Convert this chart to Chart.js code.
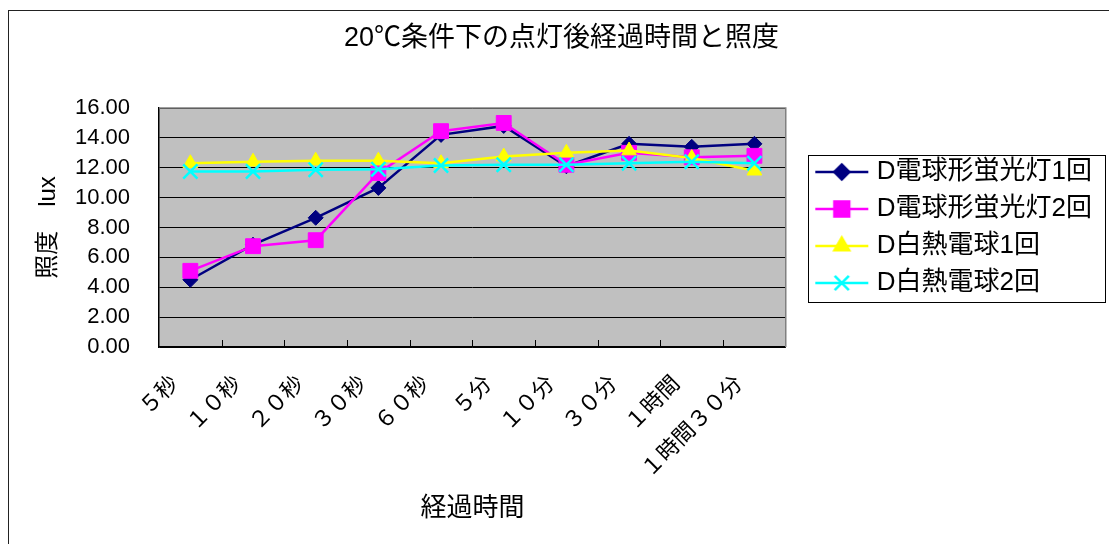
<!DOCTYPE html>
<html>
<head>
<meta charset="utf-8">
<script src="https://cdn.jsdelivr.net/npm/chart.js@4.4.1/dist/chart.umd.min.js"></script>
<style>
    html, body { margin: 0; padding: 0; background: #fff; overflow: hidden; }
    #frame { position: absolute; left: 8px; top: 10px; width: 1200px; height: 600px; border: 1.5px solid #222; }
    #wrap { position: absolute; left: 0; top: 0; width: 1109px; height: 544px; }
</style>
</head>
<body>
<div id="frame"></div>
<div id="wrap"><canvas id="luxChart"></canvas></div>
<script>
var categories = ["５秒", "１０秒", "２０秒", "３０秒", "６０秒", "５分", "１０分", "３０分", "１時間", "１時間３０分"];
var fluor1 = [4.5, 6.85, 8.65, 10.65, 14.2, 14.8, 12.1, 13.6, 13.4, 13.6];
var fluor2 = [5.1, 6.75, 7.15, 11.65, 14.45, 15.0, 12.2, 13.0, 12.7, 12.8];
var incand1 = [12.3, 12.4, 12.47, 12.47, 12.3, 12.75, 13.0, 13.15, 12.65, 11.8];
var incand2 = [11.75, 11.75, 11.87, 11.9, 12.15, 12.2, 12.2, 12.3, 12.4, 12.3];
var seriesNames = ["D電球形蛍光灯1回", "D電球形蛍光灯2回", "D白熱電球1回", "D白熱電球2回"];
var yTicks = [0, 2, 4, 6, 8, 10, 12, 14, 16];

var FONT = "'Liberation Sans', 'Noto Sans CJK JP', sans-serif";
var colors = ["#000080", "#ff00ff", "#ffff00", "#00ffff"];
var styles = ["rectRot", "rect", "triangle", "crossRot"];
var radii = [7.5, 10.5, 8.5, 10];

function legendMarker(i) {
    var c = document.createElement("canvas");
    c.width = 78;
    c.height = 26;
    var ctx = c.getContext("2d");
    ctx.strokeStyle = colors[i];
    ctx.fillStyle = colors[i];
    ctx.lineWidth = 2.5;
    ctx.beginPath();
    ctx.moveTo(24, 13);
    ctx.lineTo(77, 13);
    ctx.stroke();
    Chart.helpers.drawPoint(ctx, {
        pointStyle: styles[i],
        radius: radii[i],
        rotation: 0,
        borderWidth: i === 3 ? 2.5 : 1
    }, 50.5, 13);
    return c;
}

function makeDataset(i, data) {
    return {
        label: seriesNames[i],
        data: data,
        borderColor: colors[i],
        backgroundColor: colors[i],
        borderWidth: 2.5,
        pointStyle: styles[i],
        pointRadius: radii[i],
        pointBorderWidth: i === 3 ? 2.5 : 1,
        pointBorderColor: colors[i],
        pointBackgroundColor: colors[i],
        tension: 0,
        order: 4 - i
    };
}

var plotFrame = {
    id: "plotFrame",
    beforeDraw: function (chart) {
        var a = chart.chartArea;
        var ctx = chart.ctx;
        ctx.save();
        ctx.fillStyle = "#c0c0c0";
        ctx.fillRect(a.left, a.top, a.right - a.left, a.bottom - a.top);
        ctx.restore();
    },
    beforeDatasetsDraw: function (chart) {
        var a = chart.chartArea;
        var ctx = chart.ctx;
        var x = chart.scales.x;
        ctx.save();
        ctx.strokeStyle = "#808080";
        ctx.lineWidth = 1.5;
        ctx.beginPath();
        ctx.moveTo(a.left, a.top);
        ctx.lineTo(a.right, a.top);
        ctx.lineTo(a.right, a.bottom);
        ctx.stroke();
        // inside tick marks between categories
        ctx.strokeStyle = "#000";
        ctx.lineWidth = 1;
        ctx.beginPath();
        for (var i = 1; i < categories.length; i++) {
            var px = Math.round(x.getPixelForValue(i - 0.5)) + 0.5;
            ctx.moveTo(px, a.bottom);
            ctx.lineTo(px, a.bottom - 7);
        }
        ctx.stroke();
        ctx.restore();
    },
    afterDraw: function (chart) {
        var lg = chart.legend;
        if (!lg || !lg.legendHitBoxes.length) return;
        var boxes = lg.legendHitBoxes;
        var first = boxes[0];
        var last = boxes[boxes.length - 1];
        var ctx = chart.ctx;
        ctx.save();
        ctx.strokeStyle = "#000";
        ctx.lineWidth = 1;
        var top = Math.round(first.top - 4) + 0.5;
        var bottom = Math.round(last.top + last.height + 6) + 0.5;
        var left = Math.round(lg.left + 22) + 0.5;
        var right = chart.width - 3.5;
        ctx.strokeRect(left, top, right - left, bottom - top);
        ctx.restore();
    }
};

new Chart(document.getElementById("luxChart"), {
    type: "line",
    data: {
        labels: categories,
        datasets: [
            makeDataset(0, fluor1),
            makeDataset(1, fluor2),
            makeDataset(2, incand1),
            makeDataset(3, incand2)
        ]
    },
    options: {
        responsive: true,
        maintainAspectRatio: false,
        animation: false,
        layout: {
            padding: { left: 21, right: 7, top: 0, bottom: 20 }
        },
        plugins: {
            title: {
                display: true,
                text: "20℃条件下の点灯後経過時間と照度",
                color: "#000",
                font: { family: FONT, size: 27, weight: "normal" },
                padding: { top: 22, bottom: 53.6 }
            },
            legend: {
                position: "right",
                fullSize: false,
                maxWidth: 330,
                labels: {
                    usePointStyle: true,
                    pointStyleWidth: 67,
                    padding: 11,
                    color: "#000",
                    font: { family: FONT, size: 26 },
                    generateLabels: function (chart) {
                        return chart.data.datasets.map(function (ds, i) {
                            return {
                                text: ds.label,
                                pointStyle: legendMarker(i),
                                fillStyle: colors[i],
                                strokeStyle: colors[i],
                                lineWidth: 0,
                                hidden: false,
                                datasetIndex: i,
                                fontColor: "#000"
                            };
                        });
                    }
                }
            },
            tooltip: { enabled: false }
        },
        scales: {
            x: {
                offset: true,
                grid: { drawOnChartArea: false, drawTicks: false, offset: true },
                border: { color: "#000", width: 1.5 },
                ticks: {
                    color: "#000",
                    font: { family: FONT, size: 22 },
                    minRotation: 45,
                    maxRotation: 45,
                    autoSkip: false,
                    padding: 24,
                    labelOffset: -15
                },
                title: {
                    display: true,
                    text: "経過時間",
                    color: "#000",
                    font: { family: FONT, size: 26 },
                    padding: { top: 0, bottom: 0 }
                },
                afterFit: function (scale) {
                    scale.height = 177;
                }
            },
            y: {
                min: yTicks[0],
                max: yTicks[yTicks.length - 1],
                afterBuildTicks: function (scale) {
                    scale.ticks = yTicks.map(function (v) { return { value: v }; });
                },
                grid: { color: "#000", lineWidth: 1, drawTicks: false },
                border: { color: "#000", width: 1.5 },
                ticks: {
                    color: "#000",
                    autoSkip: false,
                    font: { family: FONT, size: 22 },
                    padding: 29,
                    callback: function (v) { return v.toFixed(2); }
                },
                title: {
                    display: true,
                    text: "照度　lux",
                    color: "#000",
                    font: { family: FONT, size: 24 },
                    padding: { top: 12.6, bottom: 0 }
                },
                afterFit: function (scale) {
                    scale.width = 138;
                }
            }
        }
    },
    plugins: [plotFrame]
});
</script>
</body>
</html>
